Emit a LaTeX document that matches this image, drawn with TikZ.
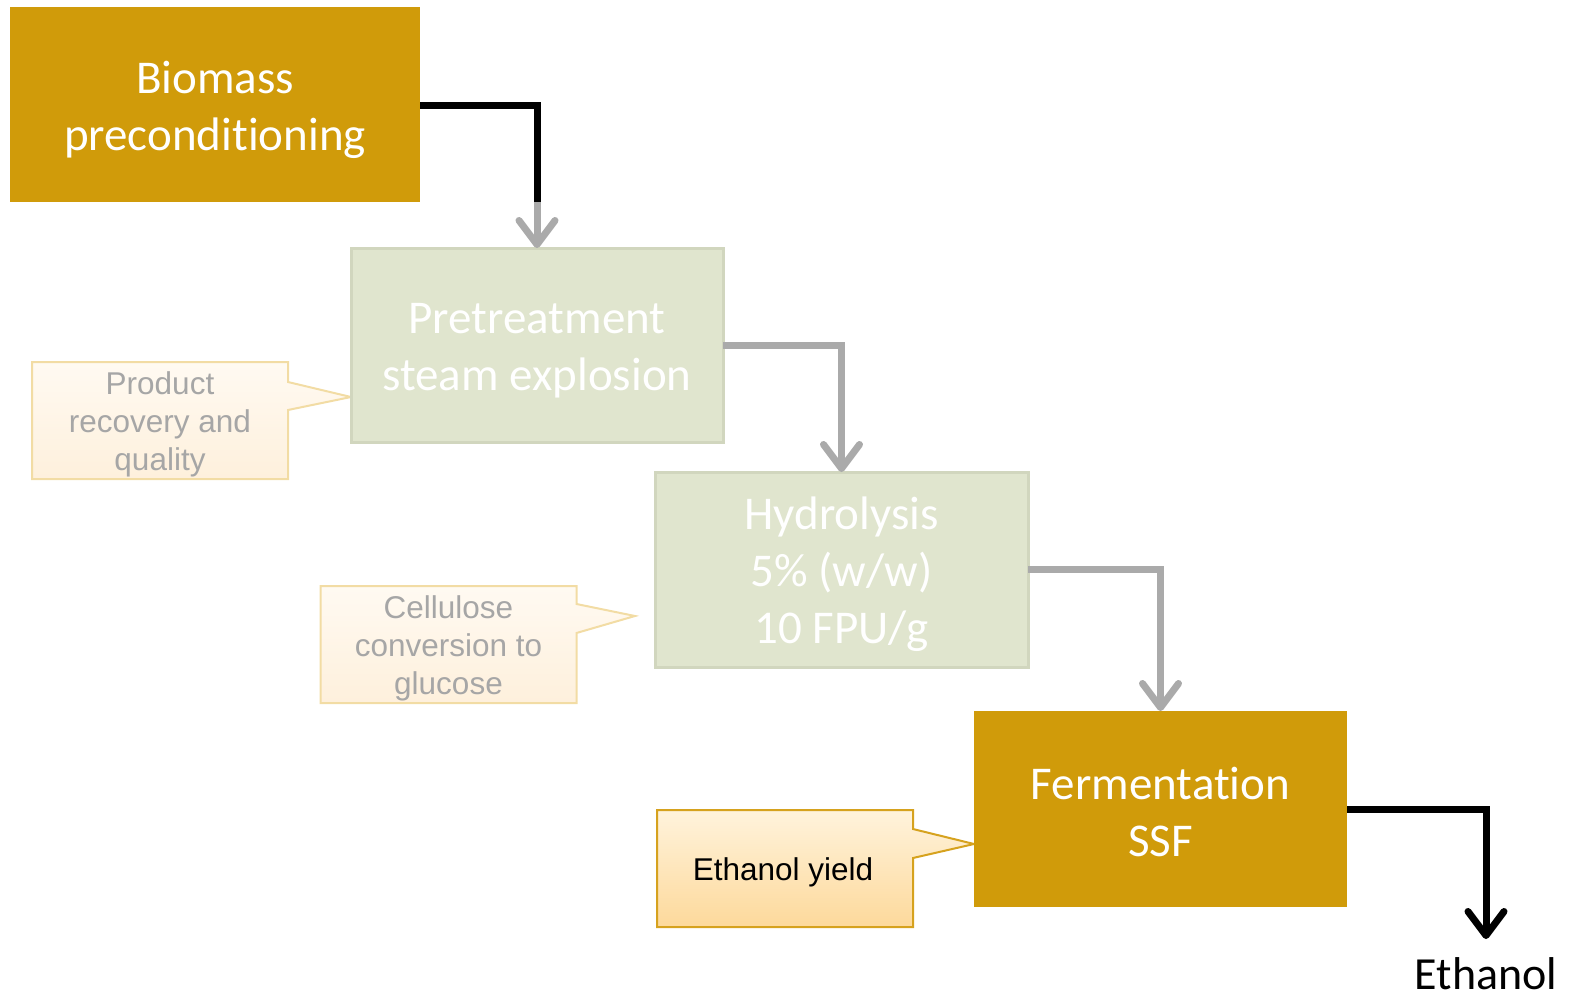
\documentclass[tikz,border=0pt]{standalone}
\usepackage{fontspec}
\setmainfont[Ligatures={NoCommon,NoContextual},RawFeature={-liga;-clig;-dlig}]{Carlito}
\newfontfamily\arialf{Liberation Sans}
\usetikzlibrary{arrows.meta,calc}
\definecolor{gold}{RGB}{208,155,10}
\definecolor{sage}{RGB}{224,229,206}
\definecolor{sageedge}{RGB}{209,214,190}
\definecolor{conn}{RGB}{170,170,170}
\definecolor{txtgray}{RGB}{166,166,166}
\definecolor{paleT}{RGB}{255,250,242}
\definecolor{paleB}{RGB}{254,240,220}
\definecolor{paleedge}{RGB}{242,220,164}
\definecolor{yelT}{RGB}{255,243,220}
\definecolor{yelB}{RGB}{253,217,155}
\definecolor{yeledge}{RGB}{214,162,30}
\pgfdeclarelayer{bg}
\pgfsetlayers{bg,main}
\tikzset{
  goldbox/.style={fill=gold, inner sep=0pt, outer sep=0pt, anchor=north west},
  sagebox/.style={fill=sage, draw=sageedge, line width=3pt, inner sep=0pt, outer sep=0pt, anchor=north west},
  boxtext/.style={text=white, inner sep=0pt, align=center, font=\fontsize{47}{57}\selectfont},
  callbox/.style={inner sep=0pt, outer sep=0pt, minimum width=256pt, minimum height=117pt},
  calltext/.style={inner sep=0pt, align=center, font=\arialf\fontsize{31.5}{38}\selectfont},
  paleshape/.style={top color=paleT, bottom color=paleB, draw=paleedge, line width=2pt, line join=miter},
  yelshape/.style={top color=yelT, bottom color=yelB, draw=yeledge, line width=2pt, line join=miter},
  blkline/.style={draw=black, line width=7pt},
  gryline/.style={draw=conn, line width=7pt},
  chev/.style={-{Straight Barb[length=24pt,width=36pt,line cap=round,line join=round]}},
}
\begin{document}
\begin{tikzpicture}[x=1pt,y=-1pt]
\useasboundingbox (0,0) rectangle (1572,999);

% process boxes
\node[goldbox, minimum width=410pt, minimum height=195pt] (bio) at (10,7) {};
\node[sagebox, minimum width=372pt, minimum height=194pt] (pre) at (351,248) {};
\node[sagebox, minimum width=373pt, minimum height=195pt] (hyd) at (655,472) {};
\node[goldbox, minimum width=373pt, minimum height=196pt] (fer) at (974,711) {};
\node[boxtext] (bioT) at ($(bio.center)+(0,5)$) {Biomass\\preconditioning};
\node[boxtext] (preT) at ($(pre.center)+(0,6)$) {Pretreatment\\steam explosion};
\node[boxtext] (hydT) at ($(hyd.center)+(0,5)$) {Hydrolysis\\5\% (w/w)\\10 FPU/g};
\node[boxtext] (ferT) at ($(fer.center)+(0,3)$) {Fermentation\\SSF};

% output label
\node[anchor=base, font=\fontsize{46}{55}\selectfont, inner sep=0pt] (eth) at (1486,989) {Ethanol};

% callouts
\node[callbox] (c1) at (160,420.5) {};
\node[callbox] (c2) at (448.5,644.5) {};
\node[callbox] (c3) at (785,868.5) {};
\node[calltext, text=txtgray] (c1T) at ($(c1.center)+(0,4)$) {Product\\recovery and\\quality};
\node[calltext, text=txtgray] (c2T) at ($(c2.center)+(0,4)$) {Cellulose\\conversion to\\glucose};
\node[calltext, text=black] (c3T) at ($(c3.center)+(-2,4)$) {Ethanol yield};
\begin{pgfonlayer}{bg}
\draw[paleshape] (c1.north west) -- (c1.north east) -- ($(c1.north east)+(0,20)$) -- (pre.west |- 0,397)
  -- ($(c1.north east)+(0,48)$) -- (c1.south east) -- (c1.south west) -- cycle;
\draw[paleshape] (c2.north west) -- (c2.north east) -- ($(c2.north east)+(0,18)$) -- (635,616)
  -- ($(c2.north east)+(0,47)$) -- (c2.south east) -- (c2.south west) -- cycle;
\draw[yelshape] (c3.north west) -- (c3.north east) -- ($(c3.north east)+(0,19)$) -- (fer.west |- 0,844)
  -- ($(c3.north east)+(0,48)$) -- (c3.south east) -- (c3.south west) -- cycle;
\end{pgfonlayer}

% connectors
\coordinate (k1) at (pre.north |- 0,202);
\draw[blkline] (bio.east |- 0,105) -| (k1);
\draw[gryline, chev] (k1) -- (pre.north);
\draw[gryline, chev] (pre.east) -| (hyd.north);
\draw[gryline, chev] (hyd.east) -| (fer.north);
\coordinate (k4) at (eth.north |- 0,939);
\draw[blkline, chev] (fer.east) -| (k4);
\end{tikzpicture}
\end{document}
